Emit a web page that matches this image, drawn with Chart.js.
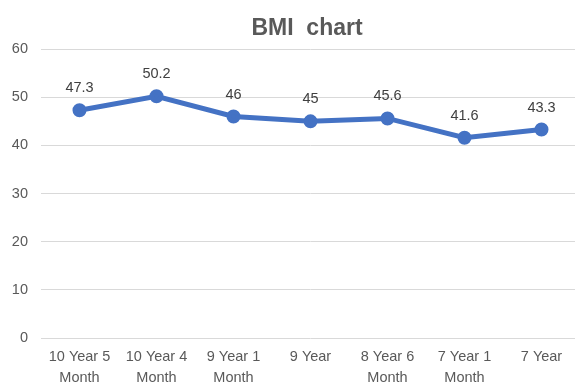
<!DOCTYPE html>
<html lang="en">
<head>
    <meta charset="UTF-8">
    <title>BMI chart</title>
    <script src="https://cdn.jsdelivr.net/npm/chart.js"></script>
    <style>
        body { margin: 0; background: #fff; overflow: hidden; }
        /* plot area runs a little past the right edge, like the original crop */
        #frame { width: 575px; height: 385px; overflow: hidden; }
        #wrap { width: 580px; height: 385px; }
    </style>
</head>
<body>
    <div id="frame"><div id="wrap"><canvas id="bmiChart"></canvas></div></div>

    <script>
        // data
        const ageLabels = [
            ['10 Year 5', 'Month'],
            ['10 Year 4', 'Month'],
            ['9 Year 1', 'Month'],
            ['9 Year'],
            ['8 Year 6', 'Month'],
            ['7 Year 1', 'Month'],
            ['7 Year']
        ];
        const bmiValues = [47.3, 50.2, 46, 45, 45.6, 41.6, 43.3];
        const yTicks = [0, 10, 20, 30, 40, 50, 60];

        const fontFamily = '"Liberation Sans", Arial, sans-serif';

        // simple value labels above each point
        const valueLabels = {
            id: 'valueLabels',
            afterLayout(chart) {
                // centre the title on the visible part of the plot
                chart.titleBlock.right -= 7;
            },
            afterDatasetsDraw(chart) {
                const ctx = chart.ctx;
                const meta = chart.getDatasetMeta(0);
                ctx.save();
                ctx.font = '14.5px ' + fontFamily;
                ctx.fillStyle = '#404040';
                ctx.textAlign = 'center';
                ctx.textBaseline = 'middle';
                meta.data.forEach((pt, i) => {
                    ctx.fillText(String(bmiValues[i]), pt.x, pt.y - 22);
                });
                ctx.restore();
            }
        };

        new Chart(document.getElementById('bmiChart'), {
            type: 'line',
            data: {
                labels: ageLabels,
                datasets: [{
                    label: 'BMI',
                    data: bmiValues,
                    borderColor: '#4472C4',
                    backgroundColor: '#4472C4',
                    borderWidth: 5,
                    pointRadius: 4.5,
                    pointHoverRadius: 4.5,
                    tension: 0
                }]
            },
            options: {
                responsive: true,
                maintainAspectRatio: false,
                animation: false,
                layout: { autoPadding: false, padding: 0 },
                plugins: {
                    legend: { display: false },
                    tooltip: { enabled: false },
                    title: {
                        display: true,
                        text: 'BMI  chart',
                        fullSize: false,
                        color: '#595959',
                        font: { family: fontFamily, size: 23, weight: 'bold' },
                        padding: { top: 14.5, bottom: 7 }
                    }
                },
                scales: {
                    x: {
                        offset: true,
                        grid: { display: false, drawTicks: false },
                        border: { display: false },
                        afterFit(scale) { scale.height = 47; },
                        ticks: {
                            color: '#595959',
                            font: { family: fontFamily, size: 14.5, lineHeight: 1.45 },
                            maxRotation: 0,
                            autoSkip: false,
                            padding: 8
                        }
                    },
                    y: {
                        min: 0,
                        max: 60,
                        afterBuildTicks(axis) {
                            axis.ticks = yTicks.map(v => ({ value: v }));
                        },
                        afterFit(scale) { scale.width = 41; },
                        grid: { color: '#d9d9d9', lineWidth: 1, drawTicks: false },
                        border: { display: false },
                        ticks: {
                            color: '#595959',
                            font: { family: fontFamily, size: 14.5 },
                            padding: 13
                        }
                    }
                }
            },
            plugins: [valueLabels]
        });
    </script>
</body>
</html>
